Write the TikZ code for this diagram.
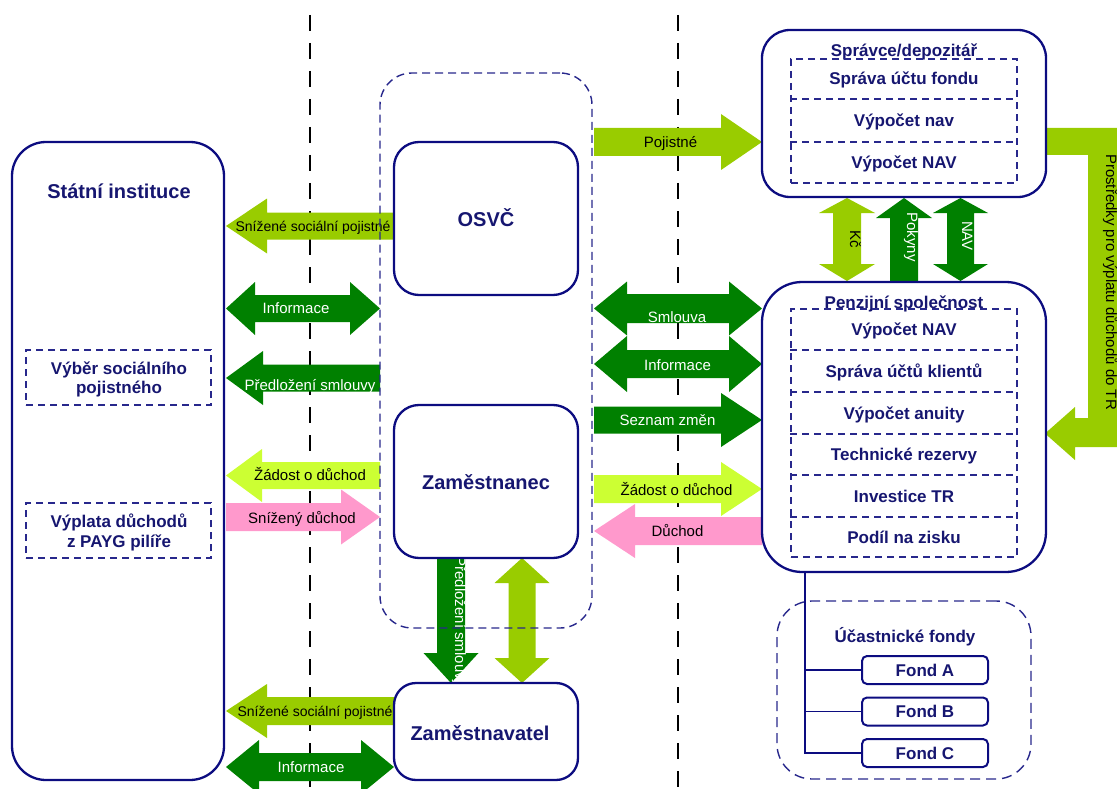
\documentclass[tikz,border=0pt]{standalone}
\usepackage{fontspec}
\setmainfont{Liberation Sans}
\definecolor{navyline}{RGB}{12,12,128}
\definecolor{navydash}{RGB}{40,40,140}
\definecolor{navytext}{RGB}{22,22,112}
\definecolor{lg}{RGB}{153,204,0}
\definecolor{dg}{RGB}{0,128,0}
\definecolor{yl}{RGB}{204,255,51}
\definecolor{pk}{RGB}{255,153,204}
% right arrow: color, x1, x2(tip), yc, shaft half, head half, head length
\newcommand\ArrR[7]{\fill[#1] ({#2},{#4-#5}) -- ({#3-#7},{#4-#5}) -- ({#3-#7},{#4-#6}) -- ({#3},{#4}) -- ({#3-#7},{#4+#6}) -- ({#3-#7},{#4+#5}) -- ({#2},{#4+#5}) -- cycle;}
% left arrow: tip at x1
\newcommand\ArrL[7]{\fill[#1] ({#3},{#4-#5}) -- ({#2+#7},{#4-#5}) -- ({#2+#7},{#4-#6}) -- ({#2},{#4}) -- ({#2+#7},{#4+#6}) -- ({#2+#7},{#4+#5}) -- ({#3},{#4+#5}) -- cycle;}
% double horizontal
\newcommand\ArrLR[8]{\fill[#1] ({#2},{#4}) -- ({#2+#7},{#4-#6}) -- ({#2+#7},{#4-#5}) -- ({#3-#8},{#4-#5}) -- ({#3-#8},{#4-#6}) -- ({#3},{#4}) -- ({#3-#8},{#4+#6}) -- ({#3-#8},{#4+#5}) -- ({#2+#7},{#4+#5}) -- ({#2+#7},{#4+#6}) -- cycle;}
% down arrow: color, xc, ytop, ytip, s, H, L
\newcommand\ArrD[7]{\fill[#1] ({#2-#5},{#3}) -- ({#2-#5},{#4-#7}) -- ({#2-#6},{#4-#7}) -- ({#2},{#4}) -- ({#2+#6},{#4-#7}) -- ({#2+#5},{#4-#7}) -- ({#2+#5},{#3}) -- cycle;}
% up arrow: tip at ytop
\newcommand\ArrU[7]{\fill[#1] ({#2-#5},{#4}) -- ({#2-#5},{#3+#7}) -- ({#2-#6},{#3+#7}) -- ({#2},{#3}) -- ({#2+#6},{#3+#7}) -- ({#2+#5},{#3+#7}) -- ({#2+#5},{#4}) -- cycle;}
% double vertical
\newcommand\ArrUD[8]{\fill[#1] ({#2},{#3}) -- ({#2+#6},{#3+#7}) -- ({#2+#5},{#3+#7}) -- ({#2+#5},{#4-#8}) -- ({#2+#6},{#4-#8}) -- ({#2},{#4}) -- ({#2-#6},{#4-#8}) -- ({#2-#5},{#4-#8}) -- ({#2-#5},{#3+#7}) -- ({#2-#6},{#3+#7}) -- cycle;}
\tikzset{
  rbox/.style={draw=navyline, line width=2.3pt, rectangle, inner sep=0pt, outer sep=0pt},
  grpbox/.style={draw=navydash, line width=1.4pt, dash pattern=on 8pt off 5pt, rectangle, inner sep=0pt, outer sep=0pt},
  innerdash/.style={draw=navydash, line width=1.4pt, dash pattern=on 7pt off 5pt},
  ttl/.style={font=\fontsize{20}{24}\selectfont\bfseries, text=navytext, anchor=base, inner sep=0pt},
  rowtxt/.style={font=\fontsize{17}{20}\selectfont\bfseries, text=navytext, anchor=base, inner sep=0pt},
  albl/.style={font=\fontsize{15}{18}\selectfont, anchor=base, inner sep=0pt},
  slbl/.style={font=\fontsize{14}{17}\selectfont, anchor=base, inner sep=0pt},
  vlbl/.style={albl, rotate=-90},
  sepline/.style={black, line width=2.6pt, dash pattern=on 16pt off 12pt}
}
\begin{document}
\begin{tikzpicture}[x=1pt,y=-1pt]
\useasboundingbox (0,0) rectangle (1117,789);
\clip (0,0) rectangle (1117,789);
% separator lines
\coordinate (s1t) at (310,15); \coordinate (s1b) at (310,789);
\coordinate (s2t) at (678,15); \coordinate (s2b) at (678,789);
\draw[sepline] (s1t) -- (s1b);
\draw[sepline] (s2t) -- (s2b);

% ---- arrows, left side
\ArrL{lg}{226}{394}{226}{13.5}{27.5}{41}
\ArrLR{dg}{226}{380}{308.5}{13.5}{26.5}{29}{30}
\ArrL{dg}{226}{380}{378}{13.5}{27}{37}
\ArrL{yl}{226}{380}{475.5}{13.5}{26.5}{36}
\ArrR{pk}{226}{380}{517}{14}{27.5}{39}
\ArrL{lg}{226}{394}{711}{14}{27}{41}
\ArrLR{dg}{226}{394}{767}{14}{27}{33}{33}
% ---- arrows, right side
\ArrR{lg}{594}{762}{142}{14}{28}{41}
\ArrLR{dg}{594}{762}{308.5}{14.5}{27}{33}{33}
\ArrLR{dg}{594}{762}{364}{14}{28}{33}{33}
\ArrR{dg}{594}{762}{420}{13.5}{27}{41}
\ArrR{yl}{594}{762}{489}{14}{27}{41}
\ArrL{pk}{594}{762}{531}{14}{27}{41}
% ---- vertical arrows
\ArrUD{lg}{847}{198}{281}{14}{28}{15}{17}
\ArrU{dg}{904}{198}{282}{14}{28}{20}
\ArrUD{dg}{960.5}{198}{281}{13.5}{27.5}{15}{17}
\ArrD{dg}{451}{558}{683}{14}{27.5}{30}
\ArrUD{lg}{522}{558}{683}{13.5}{27.5}{25}{25}
% ---- L-shaped arrow
\fill[lg] (1046,128) -- (1120,128) -- (1120,447) -- (1075,447) -- (1075,460) -- (1045,433.5) -- (1075,407) -- (1075,418) -- (1088,418) -- (1088,155) -- (1046,155) -- cycle;

% ---- arrow labels
\node[slbl] (l1) at (313,231) {Snížené sociální pojistné};
\node[albl, text=white] (l2) at (296,313) {Informace};
\node[albl, text=white] (l3) at (310,390) {Předložení smlouvy};
\node[albl] (l4) at (310,480) {Žádost o důchod};
\node[albl] (l5) at (302,523) {Snížený důchod};
\node[slbl] (l6) at (315,716) {Snížené sociální pojistné};
\node[albl, text=white] (l7) at (311,772) {Informace};
\node[albl] (r1) at (670.5,148) {Pojistné};
\node[albl, text=white] (r2) at (677,322) {Smlouva};
\node[albl, text=white] (r3) at (677.5,370) {Informace};
\node[albl, text=white] (r4) at (667.5,425) {Seznam změn};
\node[albl] (r5) at (676.5,495) {Žádost o důchod};
\node[albl] (r6) at (677.5,536) {Důchod};
\node[vlbl] (v1) at (850,239) {Kč};
\node[vlbl, text=white] (v2) at (907,237) {Pokyny};
\node[vlbl, text=white] (v3) at (962,236) {NAV};
\node[vlbl, text=white] (v4) at (455,622) {Předložení smlouvy};
\node[vlbl] (v5) at (1106,282) {Prostředky pro výplatu důchodů do TR};

% ---- boxes
\node[grpbox, rounded corners=32pt, minimum width=212pt, minimum height=555pt] (grp) at (486,350.5) {};
\node[rbox, rounded corners=34pt, minimum width=212pt, minimum height=638pt] (stat) at (118,461) {};
\node[rbox, rounded corners=25pt, minimum width=184pt, minimum height=153pt] (osvc) at (486,218.5) {};
\node[rbox, rounded corners=25pt, minimum width=184pt, minimum height=153pt] (zam) at (486,481.5) {};
\node[rbox, rounded corners=22pt, minimum width=184pt, minimum height=97pt] (zmv) at (486,731.5) {};
\node[rbox, rounded corners=28pt, minimum width=284pt, minimum height=167pt] (spr) at (904,113.5) {};
\node[rbox, rounded corners=40pt, minimum width=284pt, minimum height=290pt] (pen) at (904,427) {};
\node[grpbox, dash pattern=on 10pt off 6pt, rounded corners=35pt, minimum width=254pt, minimum height=178pt] (fnd) at (904,690) {};
\node[rbox, line width=2pt, rounded corners=5pt, minimum width=126pt, minimum height=28pt] (fondA) at (925,670) {};
\node[rbox, line width=2pt, rounded corners=5pt, minimum width=126pt, minimum height=28pt] (fondB) at (925,711.5) {};
\node[rbox, line width=2pt, rounded corners=5pt, minimum width=126pt, minimum height=28pt] (fondC) at (925,753) {};
\node[innerdash, rectangle, inner sep=0pt, minimum width=185pt, minimum height=55pt] (vyb) at (118.5,377.5) {};
\node[innerdash, rectangle, inner sep=0pt, minimum width=185pt, minimum height=55pt] (vyp) at (118.5,530.5) {};

% tree
\coordinate (treetop) at (805,572);
\draw[navyline, line width=1.4pt] (treetop) |- (fondA.west);
\draw[navyline, line width=1.4pt] (treetop) |- (fondB.west);
\draw[navyline, line width=1.4pt] (treetop) |- (fondC.west);

% ---- box texts
\node[ttl] (t1) at (119,198) {Státní instituce};
\node[ttl] (t2) at (486,226) {OSVČ};
\node[ttl] (t3) at (486,489) {Zaměstnanec};
\node[ttl] (t4) at (480,740) {Zaměstnavatel};
\node[rowtxt] (t5) at (904,57) {Správce/depozitář};
\node[rowtxt] (t6) at (904,308) {Penzijní společnost};
\node[rowtxt] (t7) at (905,642) {Účastnické fondy};
\node[rowtxt] (t8) at (119,374) {Výběr sociálního};
\node[rowtxt] (t9) at (119,393) {pojistného};
\node[rowtxt] (t10) at (119,527) {Výplata důchodů};
\node[rowtxt] (t11) at (119,547) {z PAYG pilíře};
\node[rowtxt] (fa) at (925,676) {Fond A};
\node[rowtxt] (fb) at (925,717.5) {Fond B};
\node[rowtxt] (fc) at (925,759) {Fond C};
\node[rowtxt] (s1) at (904,85) {Správa účtu fondu};
\node[rowtxt] (s2) at (904,127) {Výpočet nav};
\node[rowtxt] (s3) at (904,168) {Výpočet NAV};
\node[rowtxt] (p1) at (904,335.5) {Výpočet NAV};
\node[rowtxt] (p2) at (904,377) {Správa účtů klientů};
\node[rowtxt] (p3) at (904,419) {Výpočet anuity};
\node[rowtxt] (p4) at (904,460.5) {Technické rezervy};
\node[rowtxt] (p5) at (904,502) {Investice TR};
\node[rowtxt] (p6) at (904,543) {Podíl na zisku};

% ---- inner dashed tables
\node[innerdash, rectangle, inner sep=0pt, minimum width=226pt, minimum height=124pt] (sprin) at (904,121) {};
\draw[innerdash] (sprin.west |- 0,99) -- (sprin.east |- 0,99);
\draw[innerdash] (sprin.west |- 0,142) -- (sprin.east |- 0,142);
\node[innerdash, rectangle, inner sep=0pt, minimum width=226pt, minimum height=248pt] (penin) at (904,433) {};
\foreach \yy in {350,392,434,475,517}
  \draw[innerdash] (penin.west |- 0,\yy) -- (penin.east |- 0,\yy);
\end{tikzpicture}
\end{document}
